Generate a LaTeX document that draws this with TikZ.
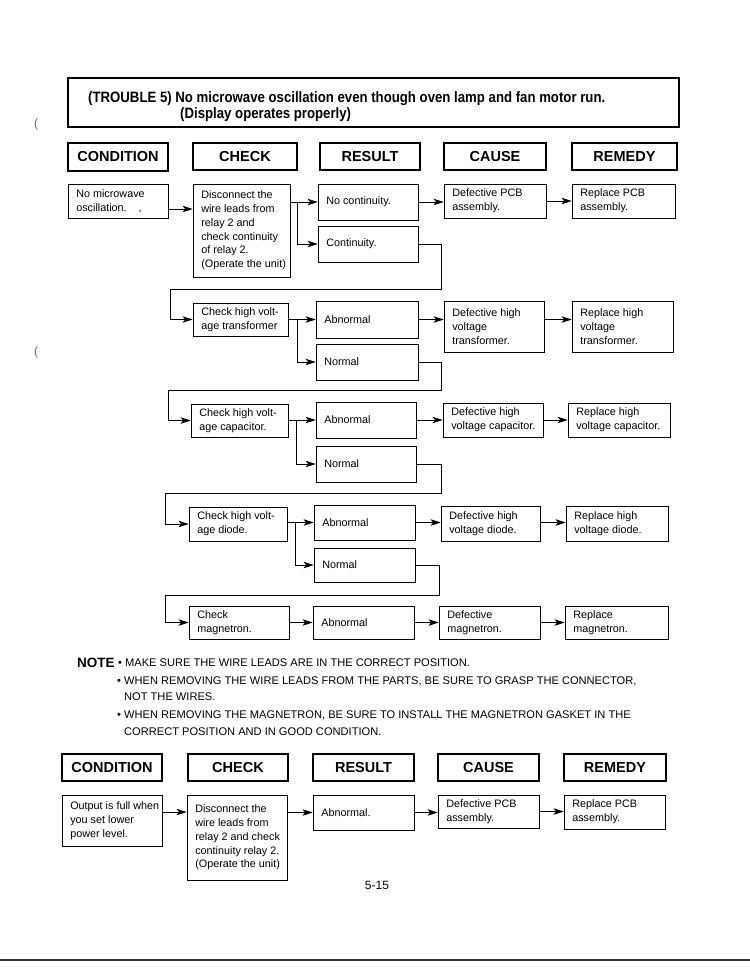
\documentclass[tikz,border=0pt]{standalone}
\usepackage{fontspec}
\setmainfont{Liberation Sans}
\newfontfamily\condfont{Liberation Sans}[FakeStretch=0.88]
\usetikzlibrary{arrows.meta}
\tikzset{
  box/.style={draw, line width=0.8pt, inner sep=0pt},
  hdr/.style={draw, line width=1.1pt, inner sep=0pt, font=\fontsize{14.5}{16}\selectfont\bfseries},
  txt/.style={inner sep=0pt, align=left, font=\fontsize{10.8}{13.8}\selectfont},
  notetxt/.style={inner sep=0pt, font=\fontsize{11.1}{13}\selectfont},
  arr/.style={line width=0.8pt, -{Stealth[length=10pt,width=6.5pt,inset=2.5pt]}},
}
\newcommand\mybox[6]{%
  \node[box, minimum width={#4-#2}, minimum height={#5-#3}] (#1) at ({(#2+#4)/2},{(#3+#5)/2}) {};
  \node[txt, anchor=west] (#1t) at ([xshift=8.5pt]#1.west) {#6};}
\newcommand\myhdr[6]{%
  \node[hdr, minimum width={#4-#2}, minimum height={#5-#3}] (#1) at ({(#2+#4)/2},{(#3+#5)/2}) {#6};}
\begin{document}
\begin{tikzpicture}[x=1pt,y=-1pt]
\fill[white] (0,0) rectangle (750,970);
\useasboundingbox (0,0) rectangle (750,970);

% title
\node[draw, line width=1.1pt, minimum width=611, minimum height=49, inner sep=0pt] (title) at (373.5,102.5) {};
\node[inner sep=0pt, anchor=base west, font=\condfont\fontsize{15}{16}\selectfont\bfseries] (t1) at (88,102.5) {(TROUBLE 5) No microwave oscillation even though oven lamp and fan motor run.};
\node[inner sep=0pt, anchor=base west, font=\condfont\fontsize{15}{16}\selectfont\bfseries] (t2) at (180,118.5) {(Display operates properly)};
\node[inner sep=0pt, anchor=base, text=black!60, font=\fontsize{12}{14}\selectfont] (p1) at (36,127) {(};
\node[inner sep=0pt, anchor=base, text=black!60, font=\fontsize{12}{14}\selectfont] (p2) at (36,355) {(};

% headers top
\myhdr{h1}{68}{143}{168}{171}{CONDITION}
\myhdr{h2}{193}{143}{297}{170}{CHECK}
\myhdr{h3}{320}{143}{420}{170}{RESULT}
\myhdr{h4}{444}{143}{546}{170}{CAUSE}
\myhdr{h5}{572}{143}{677}{170}{REMEDY}

% row 1
\mybox{cond1}{68}{184}{168}{218}{No microwave\\oscillation.\ \ \ \ ,}
\mybox{chk1}{193}{184}{290}{277}{Disconnect the\\wire leads from\\relay 2 and\\check continuity\\of relay 2.\\(Operate the unit)}
\mybox{res1a}{318}{184}{418}{220}{No continuity.}
\mybox{cau1}{444}{184}{546}{218}{Defective PCB\\assembly.}
\mybox{rem1}{572}{184}{675}{218}{Replace PCB\\assembly.}
\mybox{res1b}{318}{226}{418}{262}{Continuity.}

% row 2
\mybox{chk2}{193}{303}{288}{336}{Check high volt-\\age transformer}
\mybox{res2a}{316}{301}{418}{338}{Abnormal}
\mybox{cau2}{444}{301}{544}{352}{Defective high\\voltage\\transformer.}
\mybox{rem2}{572}{301}{673}{352}{Replace high\\voltage\\transformer.}
\mybox{res2b}{316}{344}{418}{380}{Normal}

% row 3
\mybox{chk3}{191}{404}{288}{437}{Check high volt-\\age capacitor.}
\mybox{res3a}{316}{402}{416}{438}{Abnormal}
\mybox{cau3}{443}{403}{543}{437}{Defective high\\voltage capacitor.}
\mybox{rem3}{568}{403}{670}{437}{Replace high\\voltage capacitor.}
\mybox{res3b}{316}{446}{416}{482}{Normal}

% row 4
\mybox{chk4}{189}{507}{287}{541}{Check high volt-\\age diode.}
\mybox{res4a}{314}{505}{415}{540}{Abnormal}
\mybox{cau4}{441}{506}{540}{541}{Defective high\\voltage diode.}
\mybox{rem4}{566}{506}{668}{541}{Replace high\\voltage diode.}
\mybox{res4b}{314}{548}{415}{582}{Normal}

% row 5
\mybox{chk5}{189}{606}{289}{639}{Check\\magnetron.}
\mybox{res5}{313}{606}{414}{639}{Abnormal}
\mybox{cau5}{439}{606}{540}{639}{Defective\\magnetron.}
\mybox{rem5}{565}{606}{668}{639}{Replace\\magnetron.}

% loop corners
\coordinate (l1) at (170,289);
\coordinate (l2) at (168,390);
\coordinate (l3) at (165,493);
\coordinate (l4) at (165,595);

% connectors row 1
\draw[arr] ([yshift=-8pt]cond1.east) -- ([yshift=-8pt]cond1.east -| chk1.west);
\draw[arr] (res1a.west -| chk1.east) -- (res1a.west);
\draw[arr] ([xshift=7pt]res1a.west -| chk1.east) |- (res1b.west);
\draw[arr] (res1a.east) -- (res1a.east -| cau1.west);
\draw[arr] (cau1.east) -- (cau1.east -| rem1.west);
\draw[arr] (res1b.east) -- ++(23,0) |- (l1) |- (chk2.west);

% row 2
\draw[arr] (chk2.east) -- (chk2.east -| res2a.west);
\draw[arr] ([xshift=9pt]chk2.east) |- (res2b.west);
\draw[arr] (res2a.east) -- (res2a.east -| cau2.west);
\draw[arr] (res2a.east -| cau2.east) -- (res2a.east -| rem2.west);
\draw[arr] (res2b.east) -- ++(23,0) |- (l2) |- (chk3.west);

% row 3
\draw[arr] (res3a.west -| chk3.east) -- (res3a.west);
\draw[arr] ([xshift=8pt]res3a.west -| chk3.east) |- (res3b.west);
\draw[arr] (res3a.east) -- (res3a.east -| cau3.west);
\draw[arr] (res3a.east -| cau3.east) -- (res3a.east -| rem3.west);
\draw[arr] (res3b.east) -- ++(25,0) |- (l3) |- (chk4.west);

% row 4
\draw[arr] (res4a.west -| chk4.east) -- (res4a.west);
\draw[arr] ([xshift=8pt]res4a.west -| chk4.east) |- (res4b.west);
\draw[arr] (res4a.east) -- (res4a.east -| cau4.west);
\draw[arr] (res4a.east -| cau4.east) -- (res4a.east -| rem4.west);
\draw[arr] (res4b.east) -- ++(24,0) |- (l4) |- (chk5.west);

% row 5
\draw[arr] (chk5.east) -- (chk5.east -| res5.west);
\draw[arr] (res5.east) -- (res5.east -| cau5.west);
\draw[arr] (cau5.east) -- (cau5.east -| rem5.west);

% note
\node[inner sep=0pt, anchor=base west, font=\fontsize{13.5}{15}\selectfont\bfseries] (nt) at (77,667) {NOTE};
\node[notetxt, anchor=base west] (n1) at (118,666) {• MAKE SURE THE WIRE LEADS ARE IN THE CORRECT POSITION.};
\node[notetxt, anchor=base west] (n2) at (117,684) {• WHEN REMOVING THE WIRE LEADS FROM THE PARTS, BE SURE TO GRASP THE CONNECTOR,};
\node[notetxt, anchor=base west] (n3) at (124,700) {NOT THE WIRES.};
\node[notetxt, anchor=base west] (n4) at (117,718) {• WHEN REMOVING THE MAGNETRON, BE SURE TO INSTALL THE MAGNETRON GASKET IN THE};
\node[notetxt, anchor=base west] (n5) at (124,735) {CORRECT POSITION AND IN GOOD CONDITION.};

% headers bottom
\myhdr{g1}{62}{754}{162}{781}{CONDITION}
\myhdr{g2}{188}{754}{288}{781}{CHECK}
\myhdr{g3}{313}{754}{414}{781}{RESULT}
\myhdr{g4}{438}{754}{539}{781}{CAUSE}
\myhdr{g5}{564}{754}{666}{781}{REMEDY}

% bottom row
\mybox{cond6}{62}{795}{162}{846}{Output is full when\\you set lower\\power level.}
\mybox{chk6}{187}{795}{287}{880}{Disconnect the\\wire leads from\\relay 2 and check\\continuity relay 2.\\(Operate the unit)}
\mybox{res6}{313}{795}{414}{830}{Abnormal.}
\mybox{cau6}{438}{795}{539}{828}{Defective PCB\\assembly.}
\mybox{rem6}{564}{795}{665}{829}{Replace PCB\\assembly.}

\draw[arr] ([yshift=8.5pt]cond6.east) -- ([yshift=8.5pt]cond6.east -| chk6.west);
\draw[arr] (res6.west -| chk6.east) -- (res6.west);
\draw[arr] (res6.east) -- (res6.east -| cau6.west);
\draw[arr] (cau6.east) -- (cau6.east -| rem6.west);

% page number and rule
\node[inner sep=0pt, font=\fontsize{12}{14}\selectfont] (pg) at (377,885) {5-15};
\coordinate (r1) at (0,960);
\coordinate (r2) at (750,960);
\draw[line width=1.2pt, black!80] (r1) -- (r2);
\end{tikzpicture}
\end{document}
